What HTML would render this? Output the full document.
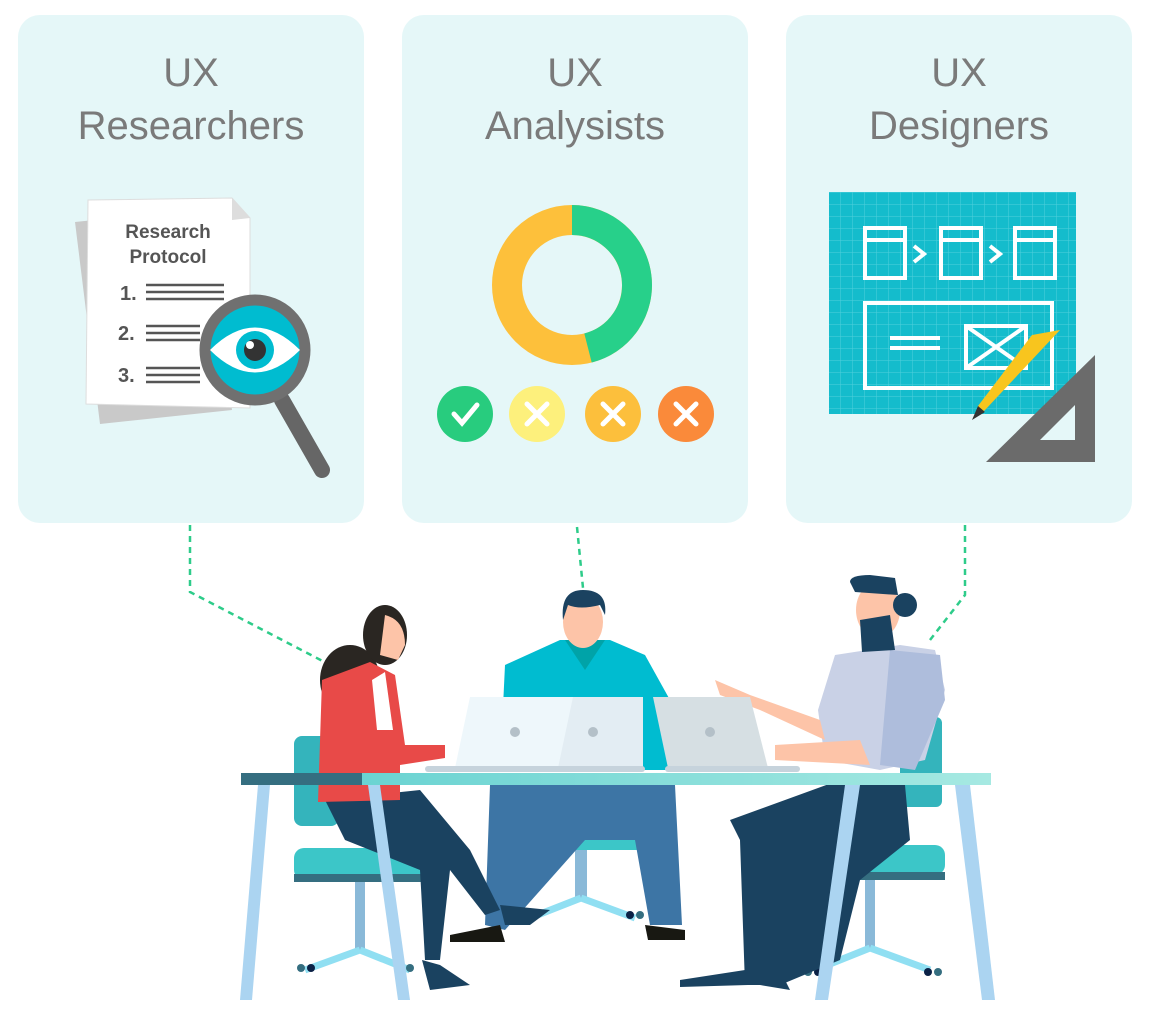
<!DOCTYPE html>
<html><head><meta charset="utf-8"><style>
html,body{margin:0;padding:0;background:#fff;}
svg{display:block;}
text{font-family:"Liberation Sans",sans-serif;}
</style></head><body>
<svg width="1165" height="1019" viewBox="0 0 1165 1019" xmlns="http://www.w3.org/2000/svg">
<defs>
<pattern id="grid" width="12" height="12" patternUnits="userSpaceOnUse"><path d="M12 0H0V12" fill="none" stroke="#4fd0dc" stroke-width="1"/></pattern>
<linearGradient id="tbl" x1="0" x2="1"><stop offset="0" stop-color="#5fcfcf"/><stop offset="1" stop-color="#a6e9e2"/></linearGradient>
</defs>
<!-- panels -->
<rect x="18" y="15" width="346" height="508" rx="22" fill="#e5f7f8"/>
<rect x="402" y="15" width="346" height="508" rx="22" fill="#e5f7f8"/>
<rect x="786" y="15" width="346" height="508" rx="22" fill="#e5f7f8"/>
<g fill="#7a7a7a" font-size="40" text-anchor="middle">
<text x="191" y="86">UX</text><text x="191" y="139">Researchers</text>
<text x="575" y="86">UX</text><text x="575" y="139">Analysists</text>
<text x="959" y="86">UX</text><text x="959" y="139">Designers</text>
</g>
<!-- document -->
<g>
<path d="M75 222 L210 208 L232 410 L100 424 Z" fill="#c9c9c9"/>
<path d="M88 200 L232 198 L250 218 L250 408 L86 404 Z" fill="#fff" stroke="#ddd"/>
<path d="M232 198 L250 218 L232 220 Z" fill="#ddd"/>
<text x="168" y="238" font-size="19" font-weight="bold" fill="#555" text-anchor="middle">Research</text>
<text x="168" y="263" font-size="19" font-weight="bold" fill="#555" text-anchor="middle">Protocol</text>
<g font-size="20" font-weight="bold" fill="#555"><text x="120" y="300">1.</text><text x="118" y="340">2.</text><text x="118" y="382">3.</text></g>
<g stroke="#555" stroke-width="2.5"><path d="M146 285H224M146 292H224M146 299H224M146 326H200M146 333H200M146 340H200M146 368H200M146 375H200M146 382H200"/></g>
<path d="M282 400 L322 470" stroke="#666" stroke-width="16" stroke-linecap="round"/>
<circle cx="255" cy="350" r="50" fill="#00bcd0" stroke="#707070" stroke-width="11"/>
<path d="M210 350 Q255 305 300 350 Q255 395 210 350Z" fill="#fff"/>
<circle cx="255" cy="350" r="19" fill="#00bcd0"/><circle cx="255" cy="350" r="11" fill="#333"/><circle cx="250" cy="345" r="4" fill="#fff"/>
</g>
<!-- donut -->
<circle cx="572" cy="285" r="65" fill="none" stroke="#fdc03b" stroke-width="30"/>
<path d="M572 220 A65 65 0 0 1 588 348" fill="none" stroke="#27d08a" stroke-width="30"/>
<g stroke="#fff" stroke-width="5" fill="none" stroke-linecap="round">
<circle cx="465" cy="414" r="28" fill="#28cc7e" stroke="none"/><path d="M454 414 L462 423 L477 405"/>
<circle cx="537" cy="414" r="28" fill="#fdf07c" stroke="none"/><path d="M527 404 L547 424M547 404 L527 424"/>
<circle cx="613" cy="414" r="28" fill="#fcbf3c" stroke="none"/><path d="M603 404 L623 424M623 404 L603 424"/>
<circle cx="686" cy="414" r="28" fill="#fa8a3a" stroke="none"/><path d="M676 404 L696 424M696 404 L676 424"/>
</g>
<!-- blueprint -->
<rect x="829" y="192" width="247" height="222" fill="#14bccc"/>
<rect x="829" y="192" width="247" height="222" fill="url(#grid)"/>
<g stroke="#fff" stroke-width="4" fill="none">
<rect x="865" y="228" width="40" height="50"/><path d="M865 240H905"/>
<rect x="941" y="228" width="40" height="50"/><path d="M941 240H981"/>
<rect x="1015" y="228" width="40" height="50"/><path d="M1015 240H1055"/>
<path d="M914 246 L924 254 L914 262M990 246 L1000 254 L990 262"/>
<rect x="865" y="303" width="187" height="85"/>
<path d="M890 338H940M890 348H940"/>
<rect x="966" y="326" width="60" height="42"/><path d="M966 326 L1026 368M1026 326 L966 368"/>
</g>
<path d="M986 462 L1095 355 L1095 462 Z" fill="#6b6b6b"/>
<path d="M1040 440 L1075 405 L1075 440 Z" fill="#e5f7f8"/>
<path d="M1032 335 L1060 330 L985 410 L975 418 L978 406 Z" fill="#f8c51e"/>
<path d="M978 406 L972 420 L985 412Z" fill="#333"/>
<!-- connectors -->
<g stroke="#2ecc8a" stroke-width="2.5" stroke-dasharray="6 5" fill="none">
<path d="M190 525 V592 L336 668"/>
<path d="M577 527 L583 588"/>
<path d="M965 525 V595 L930 640"/>
</g>
<!-- chairs -->
<g>
<rect x="294" y="736" width="45" height="90" rx="8" fill="#34b4bc"/>
<rect x="294" y="848" width="130" height="32" rx="10" fill="#3cc6c8"/>
<rect x="294" y="874" width="130" height="8" fill="#356e80"/>
<rect x="355" y="882" width="10" height="70" fill="#8ab9d8"/>
<path d="M360 950 L305 970 M360 950 L410 970" stroke="#90dff2" stroke-width="7"/>
<circle cx="301" cy="968" r="4" fill="#356e80"/><circle cx="311" cy="968" r="4" fill="#0b2146"/><circle cx="410" cy="968" r="4" fill="#356e80"/>
<rect x="525" y="820" width="120" height="30" rx="6" fill="#3cc6c8"/>
<rect x="575" y="850" width="12" height="50" fill="#8ab9d8"/>
<path d="M581 898 L530 918 M581 898 L635 918" stroke="#90dff2" stroke-width="7"/>
<circle cx="630" cy="915" r="4" fill="#0b2146"/><circle cx="640" cy="915" r="4" fill="#356e80"/>
<rect x="900" y="717" width="42" height="90" rx="6" fill="#34b4bc"/>
<rect x="805" y="845" width="140" height="30" rx="10" fill="#3cc6c8"/>
<rect x="805" y="872" width="140" height="8" fill="#356e80"/>
<rect x="865" y="880" width="10" height="70" fill="#8ab9d8"/>
<path d="M870 948 L815 970 M870 948 L930 970" stroke="#90dff2" stroke-width="7"/>
<circle cx="808" cy="972" r="4" fill="#356e80"/><circle cx="818" cy="972" r="4" fill="#0b2146"/><circle cx="928" cy="972" r="4" fill="#0b2146"/><circle cx="938" cy="972" r="4" fill="#356e80"/>
</g>
<!-- center man -->
<path d="M490 785 L675 785 L682 925 L650 925 L635 840 L585 840 L505 930 L485 925 Z" fill="#3d75a5"/>
<path d="M645 925 L685 930 L685 940 L648 940Z" fill="#181812"/>
<path d="M450 935 L500 925 L505 942 L450 942Z" fill="#181812"/>
<path d="M505 665 L560 640 L610 640 L645 655 L670 700 L680 770 L500 770 Z" fill="#00bcd0"/>
<path d="M565 640 L585 670 L605 640 Z" fill="#00a3a8"/>
<ellipse cx="583" cy="622" rx="20" ry="26" fill="#fdc4a8"/>
<path d="M563 620 Q560 590 583 590 Q608 590 605 615 L600 605 Q580 610 568 605Z" fill="#1b4260"/>
<!-- woman -->
<path d="M325 800 L420 790 L470 850 L500 910 L485 915 L450 870 L440 960 L425 960 L420 870 L345 840 Z" fill="#1a4260"/>
<path d="M500 905 L550 910 L530 925 L505 925Z" fill="#1a4260"/>
<path d="M422 960 L440 965 L470 985 L430 990 Z" fill="#1a4260"/>
<ellipse cx="350" cy="680" rx="30" ry="35" fill="#2a2622"/>
<ellipse cx="385" cy="635" rx="22" ry="30" fill="#2a2622"/>
<path d="M385 615 Q405 620 405 645 L398 660 L380 655Z" fill="#fdc4a8"/>
<path d="M322 680 L370 662 L395 675 L405 745 L445 745 L445 758 L400 765 L400 800 L318 802 Z" fill="#e84a48"/>
<path d="M372 680 L385 672 L393 730 L377 730Z" fill="#fff"/>
<!-- right man -->
<path d="M730 820 L840 780 L905 785 L910 840 L860 880 L840 960 L780 985 L745 985 L740 840 Z" fill="#1a4260"/>
<path d="M680 980 L745 970 L748 985 L680 987Z" fill="#1a4260"/>
<path d="M760 985 L780 970 L790 990Z" fill="#1a4260"/>
<path d="M835 655 L900 645 L935 650 L945 690 L925 760 L880 770 L825 760 L818 710 Z" fill="#c9d1e6"/>
<path d="M890 650 L940 655 L945 700 L915 770 L880 765 Z" fill="#aebddc"/>
<path d="M715 680 L750 695 L820 720 L825 740 L760 710 L720 695Z" fill="#fdc4a8"/>
<path d="M775 745 L860 740 L870 765 L775 760Z" fill="#fdc4a8"/>
<ellipse cx="878" cy="610" rx="22" ry="28" fill="#fdc4a8"/>
<path d="M850 582 Q850 575 870 575 L895 578 L898 595 L855 592Z" fill="#1a4260"/>
<circle cx="905" cy="605" r="12" fill="#1a4260"/>
<path d="M860 620 L890 615 L895 650 L862 652Z" fill="#1a4260"/>
<!-- laptops -->
<path d="M470 697 L573 697 L575 768 L455 768Z" fill="#eef7fb"/>
<path d="M573 697 L643 697 L643 768 L558 768Z" fill="#e3edf3"/>
<path d="M653 697 L750 697 L768 768 L668 768Z" fill="#d6dfe3"/>
<ellipse cx="515" cy="786" rx="0" ry="0"/>
<circle cx="515" cy="732" r="5" fill="#b4c0c8"/><circle cx="593" cy="732" r="5" fill="#b4c0c8"/><circle cx="710" cy="732" r="5" fill="#b4c0c8"/>
<rect x="425" y="766" width="220" height="6" rx="3" fill="#c6d3dc"/>
<rect x="665" y="766" width="135" height="6" rx="3" fill="#c6d3dc"/>
<!-- table -->
<rect x="241" y="773" width="750" height="12" fill="url(#tbl)"/>
<rect x="241" y="773" width="121" height="12" fill="#356e80"/>
<g fill="#abd4f1">
<path d="M258 785 L270 785 L252 1000 L240 1000Z"/>
<path d="M368 785 L380 785 L410 1000 L398 1000Z"/>
<path d="M845 785 L860 785 L828 1000 L815 1000Z"/>
<path d="M955 785 L970 785 L995 1000 L982 1000Z"/>
</g>
</svg>
</body></html>
